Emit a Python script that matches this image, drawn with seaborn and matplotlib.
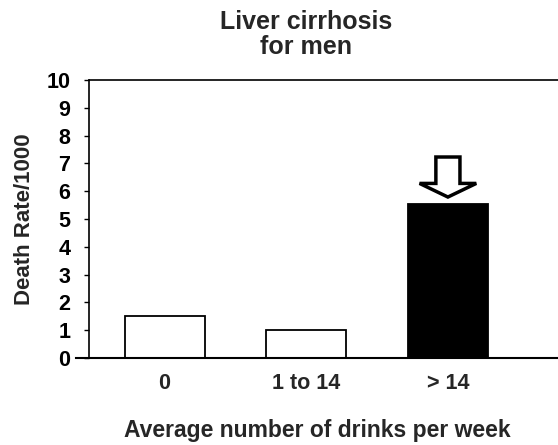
import matplotlib
matplotlib.use("Agg")
import matplotlib.pyplot as plt
import seaborn as sns
import pandas as pd

# datos
categorias = ["0", "1 to 14", "> 14"]
tasas = [1.5, 1.0, 5.55]
colores = ["white", "white", "black"]

sns.set_style("white")
plt.rcParams["font.family"] = ["Liberation Sans", "DejaVu Sans"]
plt.rcParams["font.weight"] = "bold"

df = pd.DataFrame({"drinks": categorias, "rate": tasas})

fig = plt.figure(figsize=(5.58, 4.45), dpi=100)
ax = fig.add_axes([76 / 558, 87 / 445, 482 / 558, 278 / 445])

sns.barplot(data=df, x="drinks", y="rate", hue="drinks", palette=colores,
            legend=False, width=0.565, edgecolor="black", linewidth=1.3, ax=ax)

ax.set_xlim(-0.625, 2.777)
ax.set_ylim(0, 10)
ax.set_yticks(range(0, 11))

# ejes
for lado in ["top", "right"]:
    ax.spines[lado].set_visible(False)
ax.spines["left"].set_position(("data", -0.533))
ax.spines["left"].set_linewidth(1.2)
ax.spines["bottom"].set_linewidth(1.5)
for s in ["left", "bottom"]:
    ax.spines[s].set_color("black")
ax.axhline(10, xmin=13 / 482, xmax=1, color="black", lw=1.2, clip_on=False)

ax.tick_params(axis="y", direction="out", length=3.6, width=1, pad=10,
               labelsize=15.5, left=True, colors="black")
ax.tick_params(axis="x", length=0, pad=11, labelsize=15.5)
for t in ax.get_xticklabels() + ax.get_yticklabels():
    t.set_fontweight("bold")

ax.set_xlabel("Average number of drinks per week", fontsize=16.5,
              fontweight="bold", labelpad=18)
ax.set_ylabel("Death Rate/1000", fontsize=16, fontweight="bold", labelpad=8)

# titulo centrado sobre la barra del medio
ax.text(1, 1.075, "Liver cirrhosis\nfor men", transform=ax.get_xaxis_transform(),
        ha="center", va="bottom", fontsize=18, fontweight="bold",
        linespacing=1.05)

# flecha hueca sobre la barra > 14
ax.arrow(2, 7.23, 0, -(7.23 - 5.79), width=0.17, head_width=0.40,
         head_length=0.49, length_includes_head=True, fc="white",
         ec="black", lw=2.5, zorder=5)

fig.savefig("out.png", dpi=100)
